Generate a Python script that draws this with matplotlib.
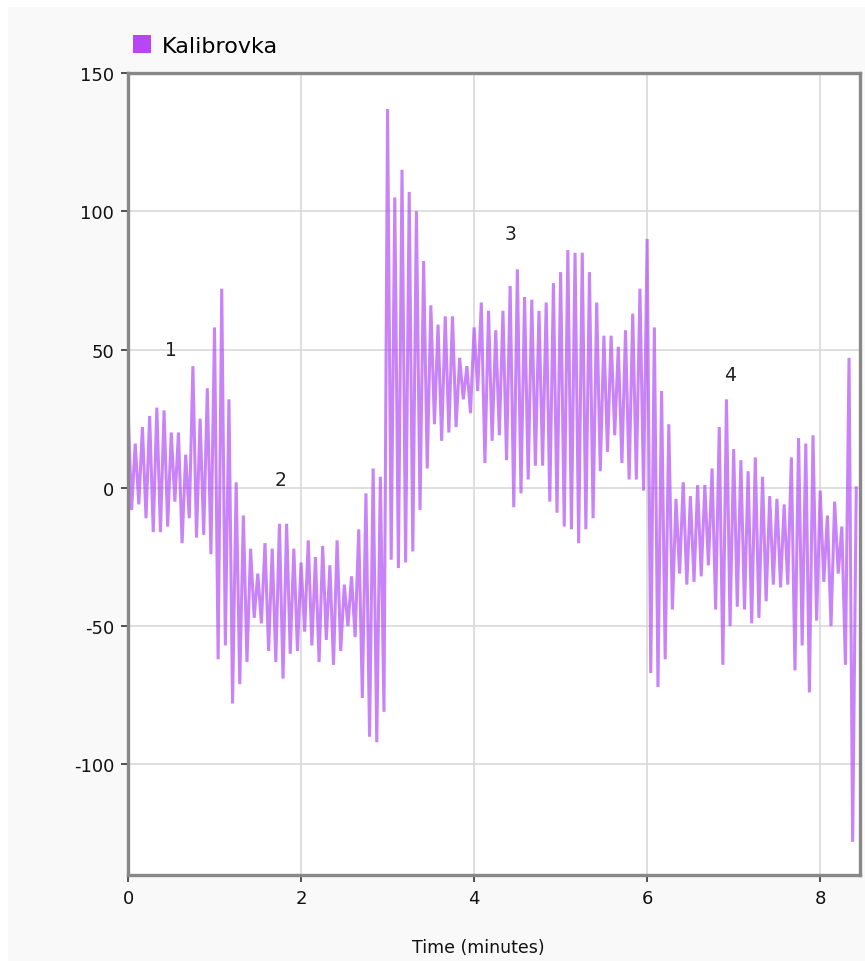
import numpy as np
import matplotlib
matplotlib.use("Agg")
import matplotlib.pyplot as plt
from matplotlib.patches import Patch, Rectangle

plt.rcParams["axes.unicode_minus"] = False

# samples every 2.5 s, one list per minute
min0 = [29, -8, 16, -6, 22, -11, 26, -16, 29, -16, 28, -14, 20, -5, 20, -20, 12, -11, 44, -18, 25, -17, 36, -24]
min1 = [58, -62, 72, -57, 32, -78, 2, -71, -10, -63, -22, -47, -31, -49, -20, -59, -22, -63, -13, -69, -13, -60, -22, -59]
min2 = [-27, -52, -19, -57, -25, -63, -21, -55, -28, -64, -19, -59, -35, -50, -32, -54, -15, -76, -2, -90, 7, -92, 4, -81]
min3 = [137, -26, 105, -29, 115, -27, 107, -23, 100, -8, 82, 7, 66, 23, 59, 17, 62, 20, 62, 22, 47, 32, 44, 27]
min4 = [58, 35, 67, 9, 64, 17, 57, 19, 64, 10, 73, -7, 79, -2, 69, 3, 68, 8, 64, 8, 67, -5, 74, -9]
min5 = [78, -14, 86, -15, 85, -20, 85, -15, 78, -11, 67, 6, 55, 13, 55, 19, 51, 9, 57, 3, 63, 3, 72, -1]
min6 = [90, -67, 58, -72, 35, -62, 23, -44, -4, -31, 2, -35, -3, -34, 1, -32, 1, -28, 7, -44, 22, -64, 32, -50]
min7 = [14, -43, 10, -44, 6, -49, 11, -47, 4, -41, -3, -35, -4, -36, -6, -35, 11, -66, 18, -57, 16, -74, 19, -48]
min8 = [-1, -34, -10, -50, -5, -31, -14, -64, 47, -128, 0]

values = min0 + min1 + min2 + min3 + min4 + min5 + min6 + min7 + min8
step_min = 2.5 / 60.0
times = np.arange(len(values)) * step_min

# phase labels
phase_labels = ["1", "2", "3", "4"]
phase_x = [0.50, 1.76, 4.42, 6.96]
phase_y = [50, 3, 92, 41]

series_name = "Kalibrovka"
line_color = "#b048f5"

fig = plt.figure(figsize=(8.65, 9.62), dpi=100, facecolor="white")
fig.patches.append(Rectangle((8 / 865, 0), 1, 1 - 8 / 962, transform=fig.transFigure,
                             facecolor="#f9f9f9", edgecolor="none", zorder=-10))
ax = fig.add_axes([128 / 865, 1 - 876 / 962, (860 - 128) / 865, (876 - 74) / 962])
ax.set_facecolor("white")

ax.plot(times, values, color=line_color, alpha=0.68, linewidth=2.2, solid_joinstyle="miter")

for lab, x, y in zip(phase_labels, phase_x, phase_y):
    ax.text(x, y, lab, fontsize=13.5, color="#222222", ha="center", va="center")

ax.set_xlim(0, 8.46)
ax.set_ylim(-140, 150)
ax.set_xticks([0, 2, 4, 6, 8])
ax.set_yticks([-100, -50, 0, 50, 100, 150])
ax.grid(True, color="#d9d9d9", linewidth=1.2)
ax.set_axisbelow(True)
for s in ax.spines.values():
    s.set_color("#888888")
    s.set_linewidth(2.4)
ax.tick_params(direction="out", length=5, width=1.2, color="#333333",
               labelsize=13, labelcolor="#111111", pad=5)
ax.set_xlabel("Time (minutes)", fontsize=12.5, color="#111111")
ax.xaxis.set_label_coords(0.479, -0.078)

handle = Patch(facecolor="#b946f5", edgecolor="none")
ax.legend([handle], [series_name], loc="lower left", bbox_to_anchor=(-0.012, 1.005),
          frameon=False, fontsize=16, handlelength=0.85, handleheight=0.85,
          handletextpad=0.45, borderaxespad=0.2)

fig.savefig("out.png", dpi=100, facecolor=fig.get_facecolor())
